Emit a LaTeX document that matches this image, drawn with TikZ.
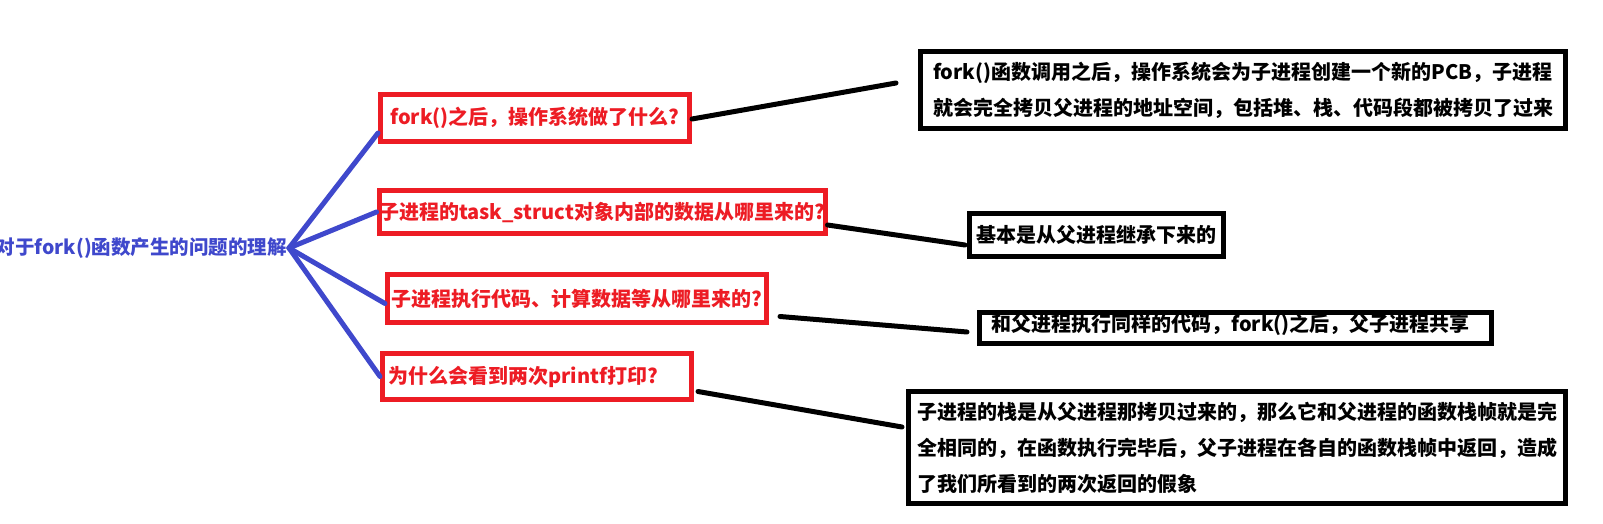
\documentclass[tikz,border=0pt]{standalone}
\usepackage{fontspec}
\setmainfont{Noto Sans CJK SC}
\usetikzlibrary{calc}
\definecolor{myred}{HTML}{ED1C24}
\definecolor{myblue}{HTML}{3F48CC}
\begin{document}
\begin{tikzpicture}[x=1pt,y=-1pt,
  qbox/.style={draw=myred, line width=5pt, inner sep=0pt, align=center, text=myred,
    font=\fontsize{20}{24}\selectfont\bfseries},
  abox/.style={draw=black, line width=5pt, inner sep=0pt, align=left, text=black,
    font=\fontsize{20}{36}\selectfont\bfseries},
  rootstyle/.style={inner sep=0pt, text=myblue, font=\fontsize{19.5}{24}\selectfont\bfseries},
  bl/.style={draw=myblue, line width=5pt, line cap=round},
  blk/.style={draw=black, line width=5pt, line cap=round}]
\fill[white] (0,0) rectangle (1603,524);
\useasboundingbox (0,0) rectangle (1603,524);

% root
\node[rootstyle, anchor=east] (root) at (287,248) {对于fork()函数产生的问题的理解};
\coordinate (hub) at (289,248);

% question boxes
\node[qbox, minimum width=309pt, minimum height=47pt] (q1) at (535,118) {fork()之后，操作系统做了什么?};
\node[qbox, minimum width=439pt, minimum height=43pt] (q2) at (602,212) {子进程的task\_struct对象内部的数据从哪里来的?};
\node[qbox, minimum width=379pt, minimum height=48pt] (q3) at (577,298.5) {子进程执行代码、计算数据等从哪里来的?};
\node[qbox, minimum width=309pt, minimum height=46pt] (q4) at (537,376.5) {为什么会看到两次printf打印?\hspace*{28pt}};

% answer boxes
\node[abox, minimum width=645pt, minimum height=77pt] (a1) at (1243,90)
  {fork()函数调用之后，操作系统会为子进程创建一个新的PCB，子进程\\就会完全拷贝父进程的地址空间，包括堆、栈、代码段都被拷贝了过来};
\node[abox, minimum width=254pt, minimum height=43pt] (a2) at (1096.5,234.5) {基本是从父进程继承下来的};
\node[abox, minimum width=512pt, minimum height=31pt, text height=16pt, text depth=10pt] (a3) at (1235.5,328)
  {和父进程执行同样的代码，fork()之后，父子进程共享\hspace*{10pt}};
\node[abox, minimum width=657pt, minimum height=112pt] (a4) at (1237,447.5)
  {子进程的栈是从父进程那拷贝过来的，那么它和父进程的函数栈帧就是完\\全相同的，在函数执行完毕后，父子进程在各自的函数栈帧中返回，造成\\了我们所看到的两次返回的假象};

% blue connectors
\draw[bl] (hub) -- ([yshift=-15pt]q1.west);
\draw[bl] (hub) -- (q2.west);
\draw[bl] (hub) -- ([yshift=-5pt]q3.west);
\draw[bl] (hub) -- (q4.west);

% black connectors
\coordinate (e1) at (896,83);
\coordinate (e2) at (965,245);
\coordinate (e3) at (967,332);
\coordinate (e4) at (902,427);
\draw[blk] ([yshift=-1pt]q1.east) -- (e1);
\draw[blk] ([yshift=-13pt]q2.east) -- (e2);
\draw[blk] ([xshift=11pt,yshift=-18pt]q3.east) -- (e3);
\draw[blk] ([xshift=4pt,yshift=-15pt]q4.east) -- (e4);
\end{tikzpicture}
\end{document}
